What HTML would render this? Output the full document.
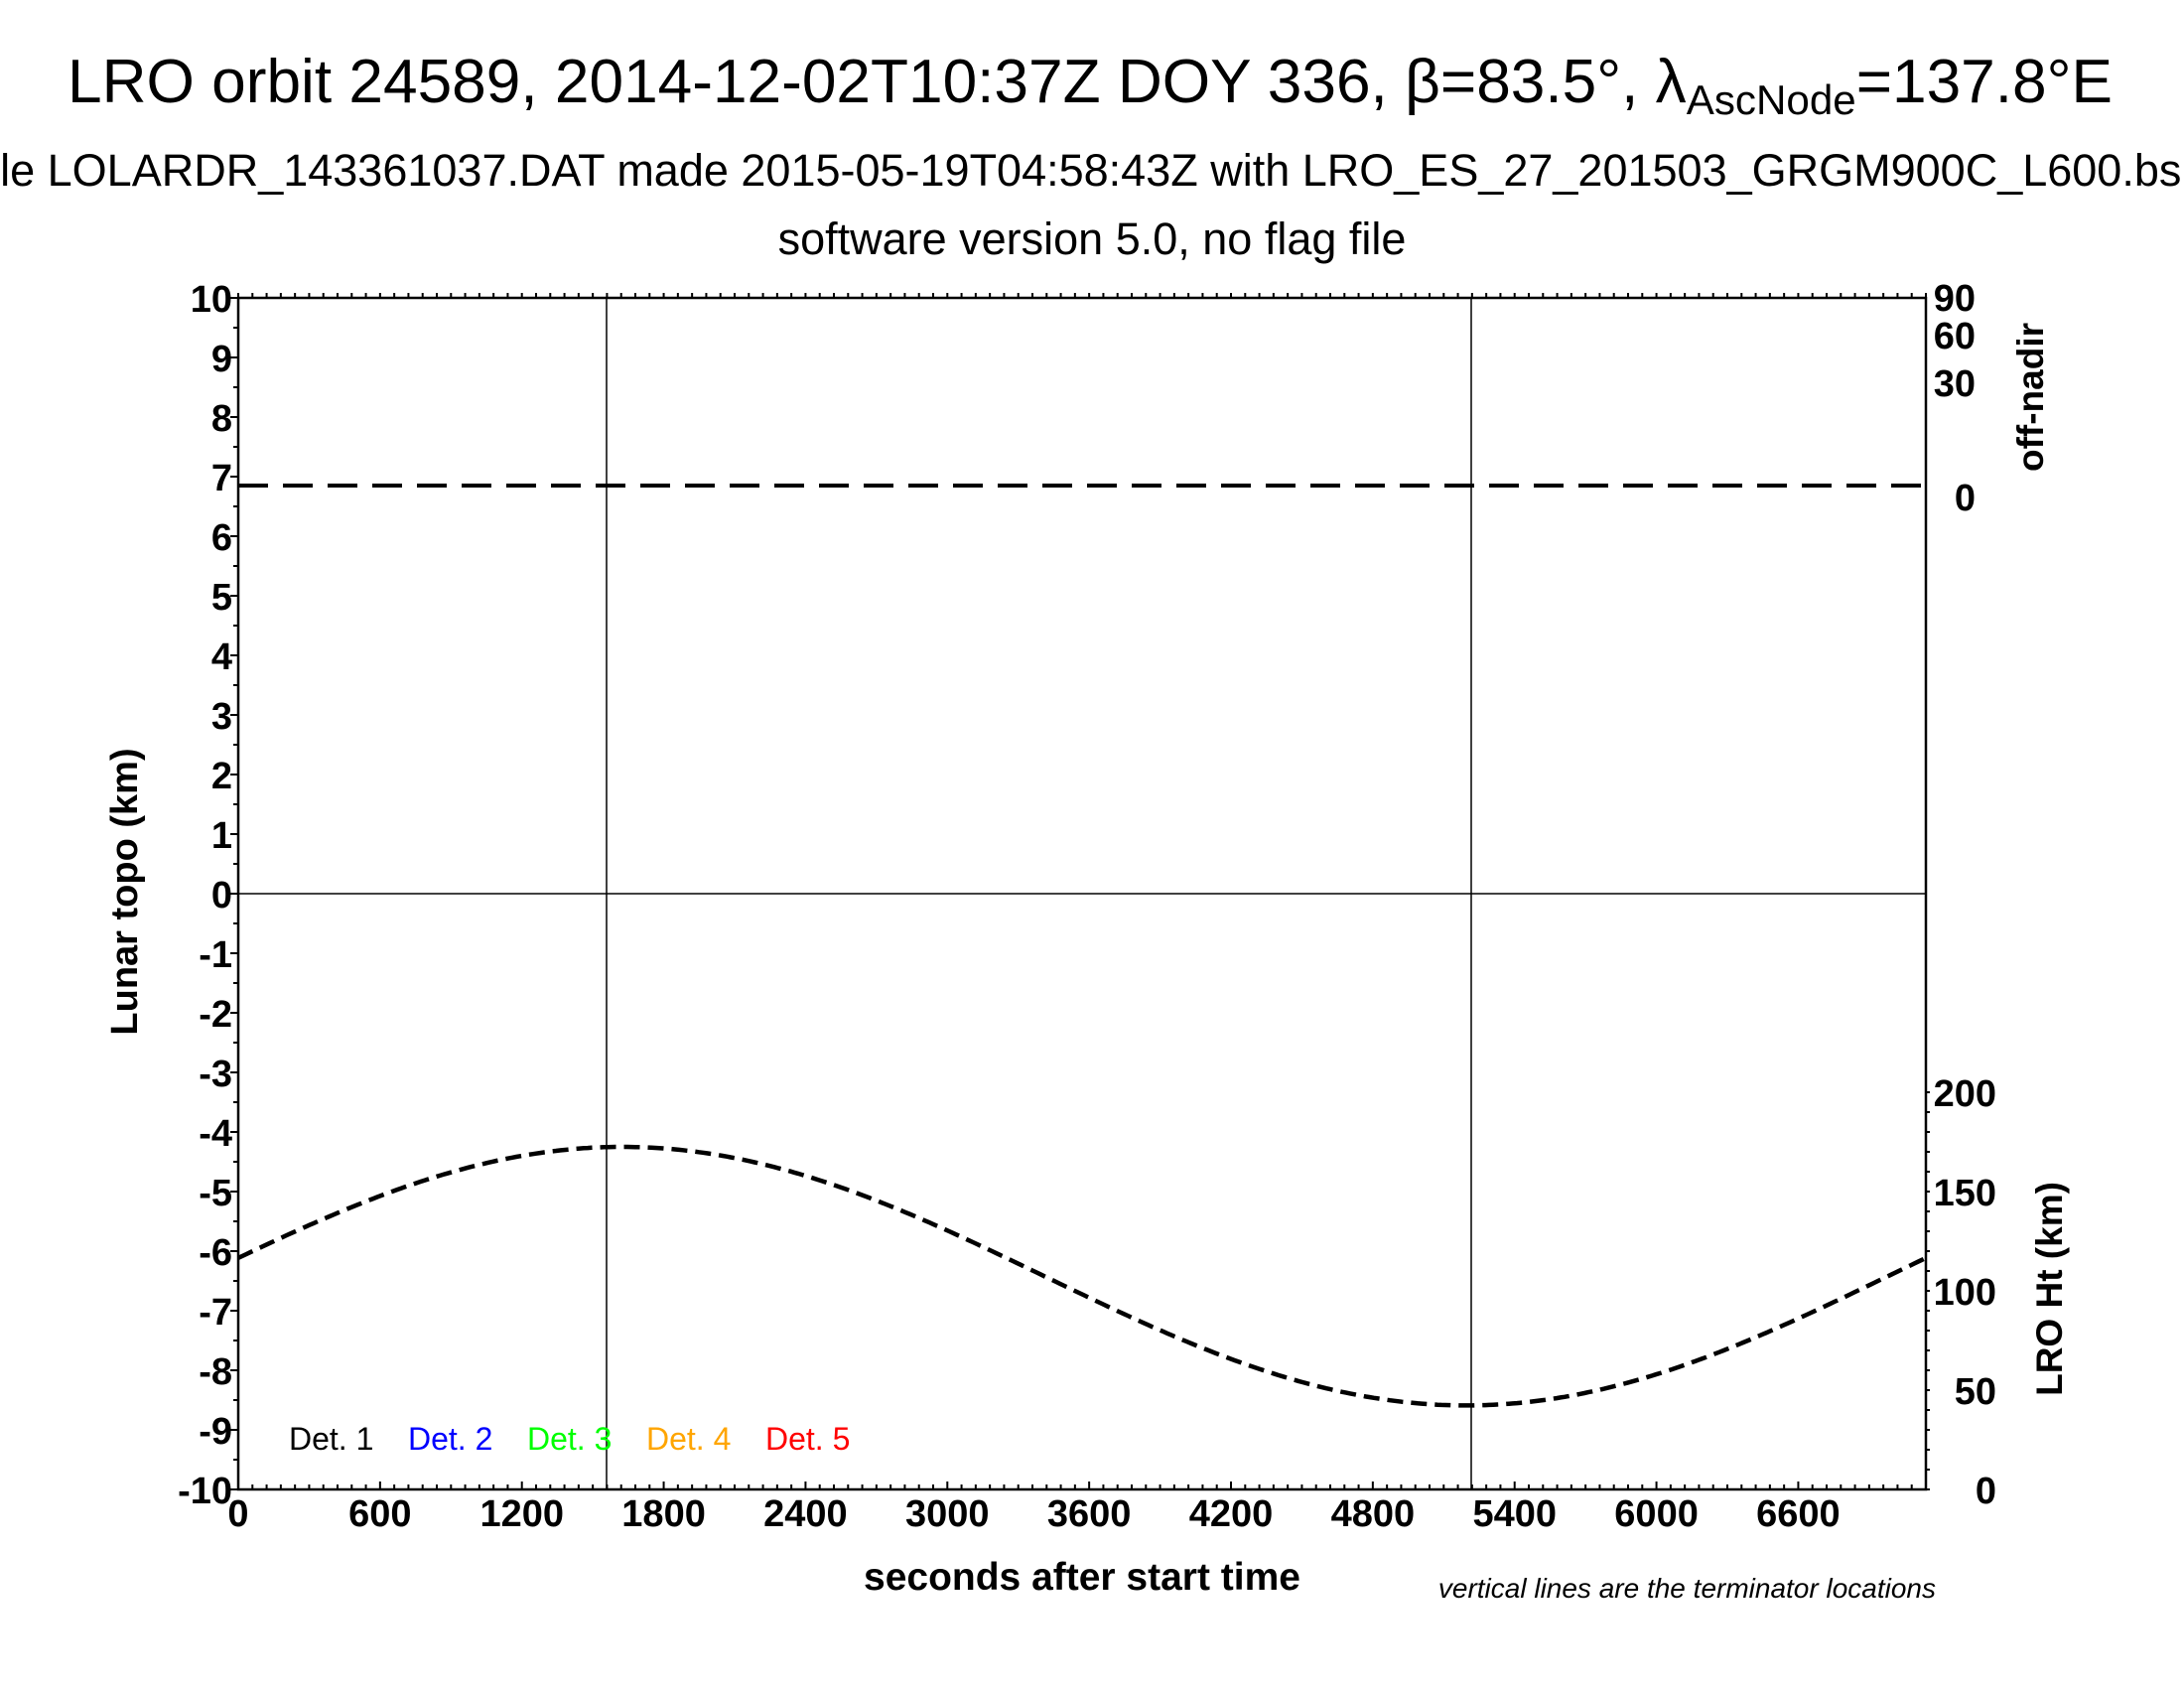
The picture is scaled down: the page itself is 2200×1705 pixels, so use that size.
<!DOCTYPE html>
<html><head><meta charset="utf-8"><style>
html,body{margin:0;padding:0;background:#fff;}
svg text{font-family:"Liberation Sans",Arial,sans-serif;}
</style></head><body>
<svg width="2200" height="1700" viewBox="0 0 2200 1700" xmlns="http://www.w3.org/2000/svg">
<rect width="2200" height="1700" fill="#fff"/>
<text x="1098" y="103" font-size="62" text-anchor="middle" textLength="2060" lengthAdjust="spacingAndGlyphs">LRO orbit 24589, 2014-12-02T10:37Z DOY 336, β=83.5°, λ<tspan font-size="42" dy="12">AscNode</tspan><tspan dy="-12">=137.8°E</tspan></text>
<text x="1100" y="187" font-size="45" text-anchor="middle">file LOLARDR_143361037.DAT made 2015-05-19T04:58:43Z with LRO_ES_27_201503_GRGM900C_L600.bsp</text>
<text x="1100" y="256" font-size="45" text-anchor="middle">software version 5.0, no flag file</text>
<g stroke="#000" stroke-width="1.5">
<line x1="240" y1="900" x2="1940" y2="900"/>
<line x1="611" y1="300" x2="611" y2="1500"/>
<line x1="1482" y1="300" x2="1482" y2="1500"/>
</g>
<rect x="240" y="300" width="1700" height="1200" fill="none" stroke="#000" stroke-width="2.5"/>
<g id="ticks" stroke="#000" stroke-width="2"></g>
<line x1="240" y1="489" x2="1940" y2="489" stroke="#000" stroke-width="4" stroke-dasharray="30,15"/>
<path id="curve" fill="none" stroke="#000" stroke-width="4.5" stroke-dasharray="16,8"/>
<g font-size="38" font-weight="bold" text-anchor="end" id="ylab"></g>
<g font-size="38" font-weight="bold" text-anchor="middle" id="xlab"></g>
<g font-size="38" font-weight="bold" text-anchor="end">
<text x="1990" y="313">90</text><text x="1990" y="351">60</text><text x="1990" y="399">30</text><text x="1990" y="514">0</text>
<text x="2011" y="1114">200</text><text x="2011" y="1214">150</text><text x="2011" y="1314">100</text><text x="2011" y="1414">50</text><text x="2011" y="1514">0</text>
</g>
<text transform="translate(138,898) rotate(-90)" font-size="38" font-weight="bold" text-anchor="middle">Lunar topo (km)</text>
<text transform="translate(2058,400) rotate(-90)" font-size="37" font-weight="bold" text-anchor="middle">off-nadir</text>
<text transform="translate(2077,1298) rotate(-90)" font-size="37" font-weight="bold" text-anchor="middle">LRO Ht (km)</text>
<text x="1090" y="1601" font-size="39" font-weight="bold" text-anchor="middle">seconds after start time</text>
<text x="1950" y="1609" font-size="28" font-style="italic" text-anchor="end">vertical lines are the terminator locations</text>
<g font-size="32">
<text x="291" y="1460" fill="#000">Det. 1</text>
<text x="411" y="1460" fill="#0000ff">Det. 2</text>
<text x="531" y="1460" fill="#00ff00">Det. 3</text>
<text x="651" y="1460" fill="#ffa500">Det. 4</text>
<text x="771" y="1460" fill="#ff0000">Det. 5</text>
</g>
</svg>
<script>
var NS="http://www.w3.org/2000/svg";
function el(p,t,a,txt){var e=document.createElementNS(NS,t);for(var k in a)e.setAttribute(k,a[k]);if(txt!==undefined)e.textContent=txt;p.appendChild(e);return e;}
var tk=document.getElementById('ticks'),yl=document.getElementById('ylab'),xl=document.getElementById('xlab');
var sx=1700/7140;
for(var s=0;s<=7140;s+=60){var x=240+s*sx,L=(s%600==0)?8:5;
 el(tk,'line',{x1:x,y1:1500,x2:x,y2:1500-L});el(tk,'line',{x1:x,y1:300,x2:x,y2:300-5});
 if(s%600==0&&s<=6600) el(xl,'text',{x:x,y:1537},String(s));}
for(var v=-10;v<=10;v+=0.5){var y=900-v*60,L=(v%1==0)?8:5;
 el(tk,'line',{x1:240,y1:y,x2:240-L,y2:y});
 if(v%1==0) el(yl,'text',{x:234,y:y+14},String(v));}
for(var y=1500;y>=1100;y-=20){el(tk,'line',{x1:1940,y1:y,x2:1944,y2:y});}
var d="";for(var px=240;px<=1940;px+=4){var t=-6.42+2.17*Math.sin(2*Math.PI*(px-240)/1700+0.141);var y=900-t*60;d+=(px==240?"M":"L")+px+","+y.toFixed(1)+" ";}
document.getElementById('curve').setAttribute('d',d);
</script>
</body></html>
